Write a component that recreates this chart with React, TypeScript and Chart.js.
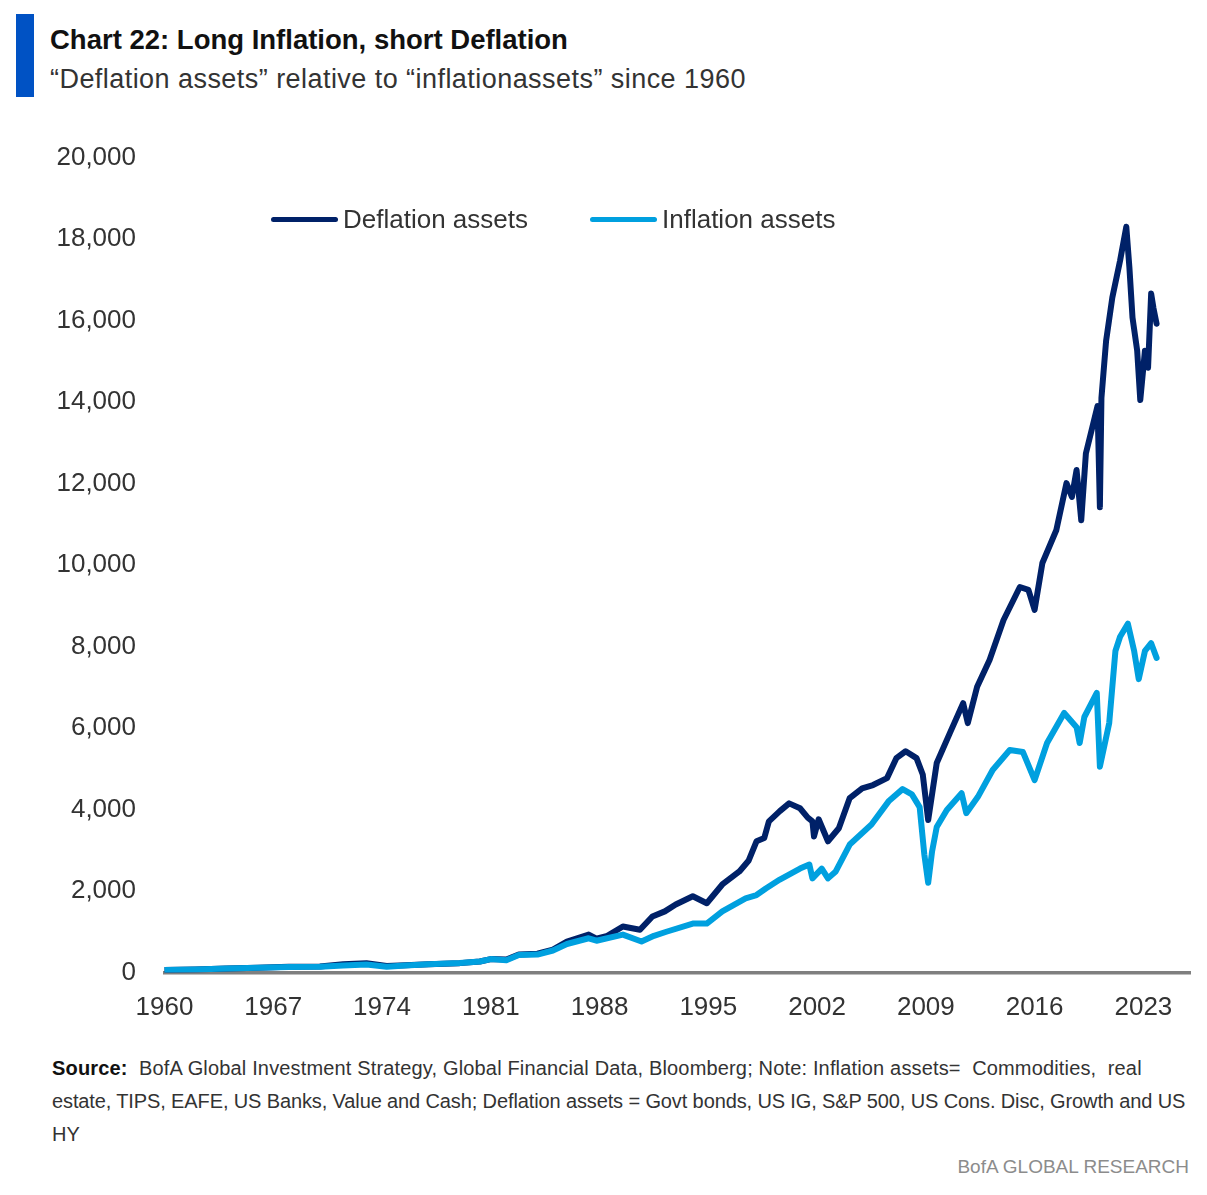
import React, { useEffect, useRef } from "react";
import { Chart, registerables } from "chart.js";

Chart.register(...registerables);

// year ticks shown under the x axis
const yearTicks = [1960, 1967, 1974, 1981, 1988, 1995, 2002, 2009, 2016, 2023];

// Deflation assets (dark navy)
const deflationYears = [
  1960, 1962, 1964, 1966, 1968, 1970, 1971.5, 1973, 1974.3, 1975.5, 1977, 1979, 1980.3, 1981, 1982, 1982.8,
  1984, 1985, 1985.9, 1987.3, 1987.8, 1988.5, 1989.5, 1990.6, 1991.4, 1992.2, 1992.9, 1994, 1994.9, 1995.9,
  1997, 1997.6, 1998.1, 1998.6, 1998.9, 1999.6, 2000.2, 2000.9, 2001.4, 2001.7, 2001.8, 2002.1, 2002.7, 2003.4,
  2004.1, 2004.9, 2005.6, 2006.5, 2007.1, 2007.7, 2008.4, 2008.8, 2009.15, 2009.7, 2010.55, 2011.4, 2011.7,
  2012.3, 2013.1, 2014, 2015.05, 2015.6, 2016.0, 2016.5, 2017.4, 2018.05, 2018.4, 2018.7, 2019.0, 2019.3,
  2020.05, 2020.2, 2020.3, 2020.6, 2021.0, 2021.5, 2021.9, 2022.1, 2022.3, 2022.6, 2022.8, 2023.1, 2023.3,
  2023.5, 2023.65, 2023.85,
];
const deflationValues = [
  60, 75, 100, 115, 140, 150, 200, 230, 160, 180, 200, 230, 270, 330, 320, 440,
  460, 560, 760, 930, 830, 900, 1130, 1050, 1375, 1500, 1670, 1870, 1700, 2160,
  2480, 2750, 3220, 3300, 3710, 3960, 4150, 4030, 3800, 3710, 3340, 3760, 3220, 3540,
  4280, 4520, 4600, 4770, 5260, 5430, 5260, 4860, 3740, 5140, 5880, 6610, 6120,
  7010, 7670, 8650, 9460, 9390, 8900, 10050, 10860, 12010, 11670, 12330, 11100, 12740,
  13900, 11420, 14100, 15500, 16560, 17470, 18300, 17300, 16070, 15260, 14050, 15260, 14840,
  16660, 16300, 15920,
];

// Inflation assets (light blue)
const inflationYears = [
  1960, 1962, 1964, 1966, 1968, 1970, 1971.5, 1973, 1974.3, 1975.5, 1977, 1979, 1980.3, 1981, 1982, 1982.8,
  1984, 1985, 1985.9, 1987.3, 1987.8, 1989.5, 1990.7, 1991.5, 1992.3, 1994, 1994.9, 1995.9, 1997.4, 1998.1,
  1998.7, 1999.6, 2000.9, 2001.5, 2001.7, 2002.3, 2002.7, 2003.2, 2004.1, 2005.5, 2006.6, 2007.5, 2008.1,
  2008.6, 2008.9, 2009.15, 2009.4, 2009.7, 2010.35, 2011.3, 2011.6, 2012.35, 2013.3, 2014.4, 2015.25, 2016.0,
  2016.8, 2017.9, 2018.7, 2018.9, 2019.2, 2020.0, 2020.2, 2020.8, 2021.2, 2021.5, 2022.0, 2022.4, 2022.7,
  2023.1, 2023.5, 2023.85,
];
const inflationValues = [
  60, 75, 100, 115, 135, 140, 170, 195, 140, 170, 200, 235, 270, 330, 300, 430,
  440, 540, 700, 840, 780, 930, 760, 900, 1000, 1200, 1200, 1500, 1820, 1900,
  2060, 2280, 2550, 2650, 2310, 2550, 2310, 2480, 3140, 3630, 4200, 4500, 4370,
  4060, 2900, 2200, 2970, 3570, 3990, 4400, 3910, 4310, 4970, 5460, 5410, 4720,
  5630, 6370, 6020, 5630, 6270, 6860, 5050, 6120, 7890, 8240, 8560, 7900, 7200,
  7890, 8080, 7720,
];

const seriesNames = ["Deflation assets", "Inflation assets"];
const seriesColors = ["#002168", "#00A0DF"];

const FONT = "'Liberation Sans', Arial, sans-serif";
const TEXT = "#333333";

const LineChart: React.FC = () => {
  const canvasRef = useRef<HTMLCanvasElement | null>(null);
  const chartRef = useRef<Chart | null>(null);

  useEffect(() => {
    const canvas = canvasRef.current;
    if (!canvas) return;

    if (chartRef.current) {
      chartRef.current.destroy();
      chartRef.current = null;
    }

    const toPoints = (xs: number[], ys: number[]) => xs.map((x, i) => ({ x, y: ys[i] }));

    chartRef.current = new Chart(canvas, {
      type: "line",
      data: {
        datasets: [
          {
            label: seriesNames[0],
            data: toPoints(deflationYears, deflationValues),
            borderColor: seriesColors[0],
            borderWidth: 6,
            pointRadius: 0,
            tension: 0,
            borderJoinStyle: "round",
            borderCapStyle: "round",
            order: 1,
          },
          {
            label: seriesNames[1],
            data: toPoints(inflationYears, inflationValues),
            borderColor: seriesColors[1],
            borderWidth: 6,
            pointRadius: 0,
            tension: 0,
            borderJoinStyle: "round",
            borderCapStyle: "round",
            order: 0,
          },
        ],
      },
      options: {
        animation: false,
        responsive: false,
        maintainAspectRatio: false,
        layout: { padding: { left: 0, right: 17, top: 47.5, bottom: 17.5 } },
        plugins: { legend: { display: false }, tooltip: { enabled: false } },
        scales: {
          x: {
            type: "linear",
            min: 1960,
            max: 2026,
            grid: { display: false, drawTicks: false },
            border: { display: true, color: "#7f7f7f", width: 3.5 },
            afterBuildTicks: (scale: any) => {
              scale.ticks = yearTicks.map((v) => ({ value: v }));
            },
            afterFit: (scale: any) => {
              scale.height = 60;
            },
            ticks: {
              padding: 20,
              color: TEXT,
              font: { family: FONT, size: 26 },
              maxRotation: 0,
              autoSkip: false,
              callback: (v: any) => String(v),
            },
          },
          y: {
            min: 0,
            max: 20000,
            grid: { display: false, drawTicks: false },
            border: { display: false },
            afterFit: (scale: any) => {
              scale.width = 164.5;
            },
            ticks: {
              stepSize: 2000,
              padding: 28.5,
              color: TEXT,
              font: { family: FONT, size: 26 },
              callback: (v: any) => Number(v).toLocaleString("en-US"),
            },
          },
        },
      },
    });

    return () => {
      if (chartRef.current) {
        chartRef.current.destroy();
        chartRef.current = null;
      }
    };
  }, []);

  return (
    <canvas
      ref={canvasRef}
      width={1207}
      height={940}
      style={{ position: "absolute", left: 0, top: 110, width: 1207, height: 940 }}
    />
  );
};

const LegendItem = ({ left, color, label }: { left: number; color: string; label: string }) => (
  <div style={{ position: "absolute", left, top: 204, height: 30, display: "flex", alignItems: "center" }}>
    <span style={{ display: "inline-block", width: 67, height: 5, borderRadius: 3, background: color }} />
    <span style={{ marginLeft: 5, fontSize: 26, lineHeight: "30px", color: TEXT, whiteSpace: "nowrap" }}>{label}</span>
  </div>
);

export default function App() {
  return (
    <div
      style={{
        position: "absolute",
        left: 0,
        top: 0,
        width: 1207,
        height: 1195,
        background: "#fff",
        fontFamily: FONT,
        overflow: "hidden",
      }}
    >
      <div style={{ position: "absolute", left: 16, top: 14, width: 18, height: 83, background: "#0052C4" }} />
      <div
        style={{
          position: "absolute",
          left: 50,
          top: 24,
          fontSize: 27.5,
          lineHeight: "32px",
          fontWeight: "bold",
          color: "#111",
          whiteSpace: "nowrap",
        }}
      >
        Chart 22: Long Inflation, short Deflation
      </div>
      <div
        style={{
          position: "absolute",
          left: 50,
          top: 63,
          fontSize: 27,
          lineHeight: "32px",
          letterSpacing: 0.45,
          color: TEXT,
          whiteSpace: "nowrap",
        }}
      >
        “Deflation assets” relative to “inflationassets” since 1960
      </div>

      <LineChart />

      <LegendItem left={271} color={seriesColors[0]} label={seriesNames[0]} />
      <LegendItem left={590} color={seriesColors[1]} label={seriesNames[1]} />

      <div
        style={{
          position: "absolute",
          left: 52,
          top: 1051.5,
          fontSize: 20,
          lineHeight: "33px",
          color: TEXT,
          whiteSpace: "pre",
        }}
      >
        <div style={{ letterSpacing: 0.16 }}>
          <b style={{ color: "#111" }}>Source:</b>
          {"  BofA Global Investment Strategy, Global Financial Data, Bloomberg; Note: Inflation assets=  Commodities,  real"}
        </div>
        <div style={{ letterSpacing: -0.12 }}>
          {"estate, TIPS, EAFE, US Banks, Value and Cash; Deflation assets = Govt bonds, US IG, S&P 500, US Cons. Disc, Growth and US"}
        </div>
        <div>HY</div>
      </div>
      <div
        style={{
          position: "absolute",
          right: 18,
          top: 1151,
          fontSize: 19,
          lineHeight: "32px",
          color: "#8c8c8c",
          whiteSpace: "nowrap",
        }}
      >
        BofA GLOBAL RESEARCH
      </div>
    </div>
  );
}
